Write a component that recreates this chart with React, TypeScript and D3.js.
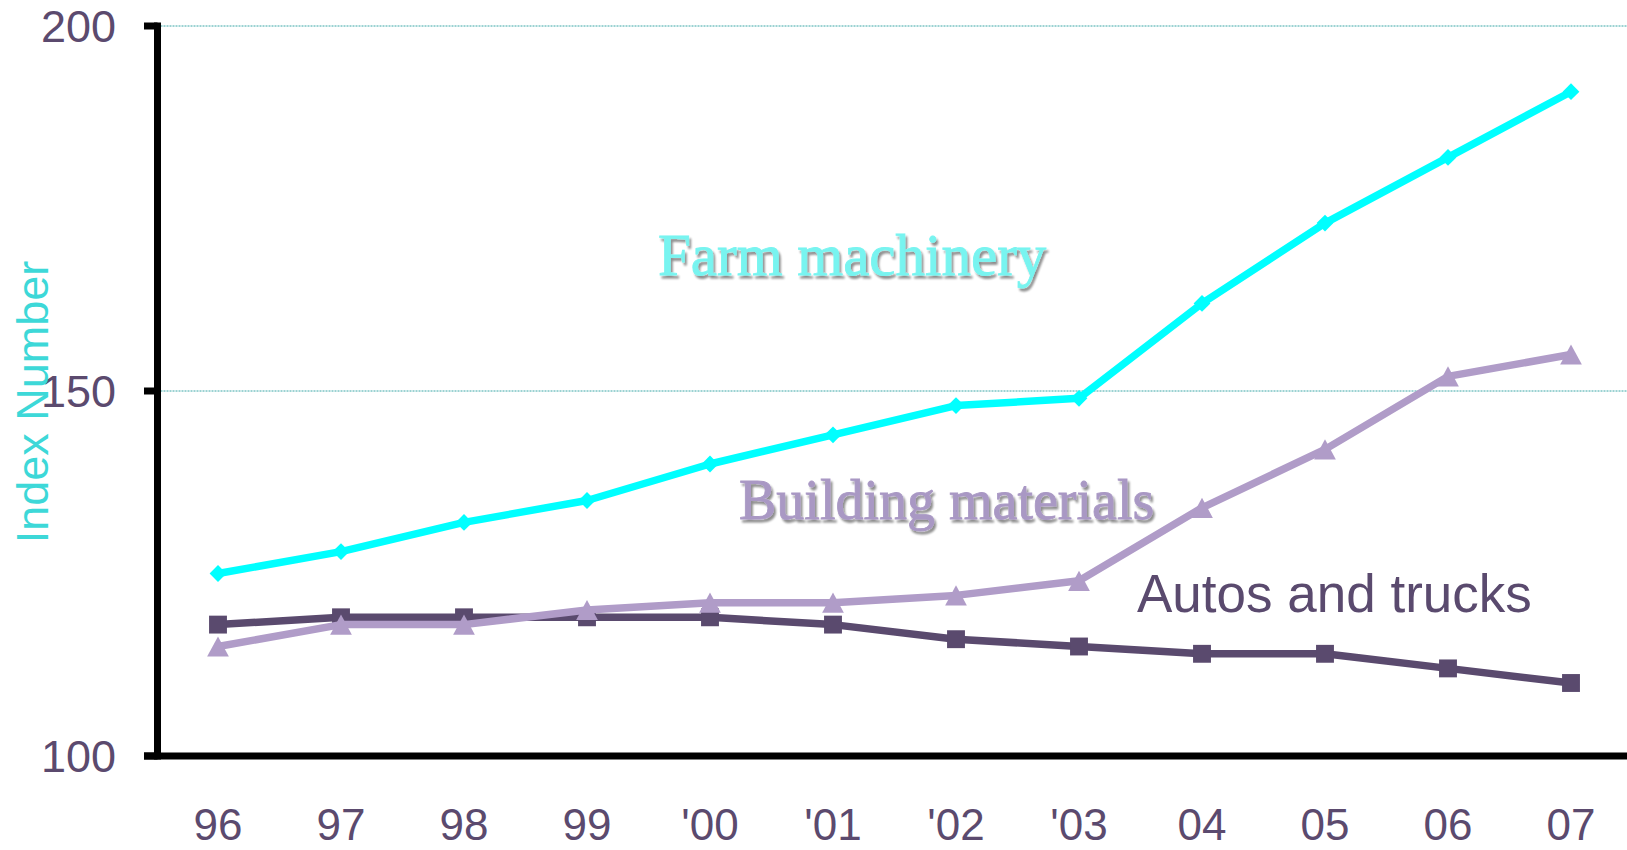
import React from "react";
import * as d3 from "d3";

const years = ["96", "97", "98", "99", "'00", "'01", "'02", "'03", "04", "05", "06", "07"];
const farmMachinery = [125, 128, 132, 135, 140, 144, 148, 149, 162, 173, 182, 191];
const buildingMaterials = [115, 118, 118, 120, 121, 121, 122, 124, 134, 142, 152, 155];
const autosAndTrucks = [118, 119, 119, 119, 119, 118, 116, 115, 114, 114, 112, 110];
const yTicks = [100, 150, 200];
const gridTicks = [150, 200];

const W = 1627;
const H = 850;

// triangle with its bounding box centred on the point
const boxTriangle = {
  draw(ctx: any, size: number) {
    const w = Math.sqrt(size) * 1.5;
    const h = w * 0.93;
    ctx.moveTo(0, -h / 2);
    ctx.lineTo(w / 2, h / 2);
    ctx.lineTo(-w / 2, h / 2);
    ctx.closePath();
  },
};

export default function App() {
  const x = d3.scalePoint<string>().domain(years).range([218, 1571]);
  const y = d3.scaleLinear().domain([100, 200]).range([756, 26]);
  const line = d3
    .line<number>()
    .x((_, i) => x(years[i]) as number)
    .y((d) => y(d));

  const axisX = 157.5;
  const tickColor = "#5B4A6E";
  const diamond = d3.symbol().type(d3.symbolDiamond2).size(180)();
  const square = d3.symbol().type(d3.symbolSquare).size(320)();
  const triangle = d3.symbol().type(boxTriangle as any).size(210)();
  const sw = 7.5;

  return (
    <svg
      width={W}
      height={H}
      style={{ position: "absolute", left: 0, top: 0, display: "block", background: "#fff" }}
    >
      <defs>
        <filter id="shadow" x="-10%" y="-30%" width="130%" height="170%">
          <feGaussianBlur in="SourceAlpha" stdDeviation="1.2" />
          <feOffset dx="2" dy="3" result="off" />
          <feComponentTransfer>
            <feFuncA type="linear" slope="0.45" />
          </feComponentTransfer>
          <feMerge>
            <feMergeNode />
            <feMergeNode in="SourceGraphic" />
          </feMerge>
        </filter>
      </defs>
      <rect width={W} height={H} fill="#fff" />
      {/* gridlines */}
      {gridTicks.map((t) => (
        <line
          key={t}
          x1={axisX}
          x2={W}
          y1={y(t)}
          y2={y(t)}
          stroke="#3aa6a6"
          strokeWidth={1}
          strokeDasharray="2 1"
        />
      ))}
      {/* axes */}
      <line x1={axisX} x2={axisX} y1={y(200) - 3.5} y2={y(100) + 3.5} stroke="#000" strokeWidth={7} />
      <line x1={144} x2={W} y1={y(100)} y2={y(100)} stroke="#000" strokeWidth={7} />
      {yTicks.map((t) => (
        <g key={t}>
          <line x1={144} x2={axisX} y1={y(t)} y2={y(t)} stroke="#000" strokeWidth={7} />
          <text
            x={116}
            y={y(t)}
            dy="0.36em"
            textAnchor="end"
            fontFamily="'Liberation Sans', Arial, sans-serif"
            fontSize={45}
            fill={tickColor}
          >
            {t}
          </text>
        </g>
      ))}
      {years.map((yr) => (
        <text
          key={yr}
          x={x(yr)}
          y={840}
          textAnchor="middle"
          fontFamily="'Liberation Sans', Arial, sans-serif"
          fontSize={44}
          fill={tickColor}
        >
          {yr}
        </text>
      ))}
      <text
        transform="translate(48,402) rotate(-90)"
        textAnchor="middle"
        fontFamily="'Liberation Sans', Arial, sans-serif"
        fontSize={45}
        fill="#3dd8d8"
      >
        Index Number
      </text>

      {/* series */}
      <path d={line(autosAndTrucks) || ""} fill="none" stroke="#5a4a6e" strokeWidth={sw} strokeLinejoin="round" />
      {autosAndTrucks.map((v, i) => (
        <path key={"a" + i} d={square || ""} transform={`translate(${x(years[i])},${y(v)})`} fill="#5a4a6e" />
      ))}
      <path d={line(buildingMaterials) || ""} fill="none" stroke="#b09cc8" strokeWidth={sw} strokeLinejoin="round" />
      {buildingMaterials.map((v, i) => (
        <path key={"b" + i} d={triangle || ""} transform={`translate(${x(years[i])},${y(v)})`} fill="#b09cc8" />
      ))}
      <path d={line(farmMachinery) || ""} fill="none" stroke="#00ffff" strokeWidth={sw} strokeLinejoin="round" />
      {farmMachinery.map((v, i) => (
        <path key={"f" + i} d={diamond || ""} transform={`translate(${x(years[i])},${y(v)})`} fill="#00ffff" />
      ))}

      {/* labels */}
      <text
        x={658}
        y={275}
        fontFamily="'Liberation Serif', 'Times New Roman', serif"
        fontSize={59}
        fill="#78f4f0"
        stroke="#78f4f0"
        strokeWidth={0.8}
        filter="url(#shadow)"
      >
        Farm machinery
      </text>
      <text
        x={739}
        y={519}
        fontFamily="'Liberation Serif', 'Times New Roman', serif"
        fontSize={56}
        fill="#a998c4"
        stroke="#a998c4"
        strokeWidth={0.8}
        filter="url(#shadow)"
      >
        Building materials
      </text>
      <text
        x={1137}
        y={612}
        fontFamily="'Liberation Sans', Arial, sans-serif"
        fontSize={53}
        fill="#5a4a6e"
      >
        Autos and trucks
      </text>
    </svg>
  );
}
